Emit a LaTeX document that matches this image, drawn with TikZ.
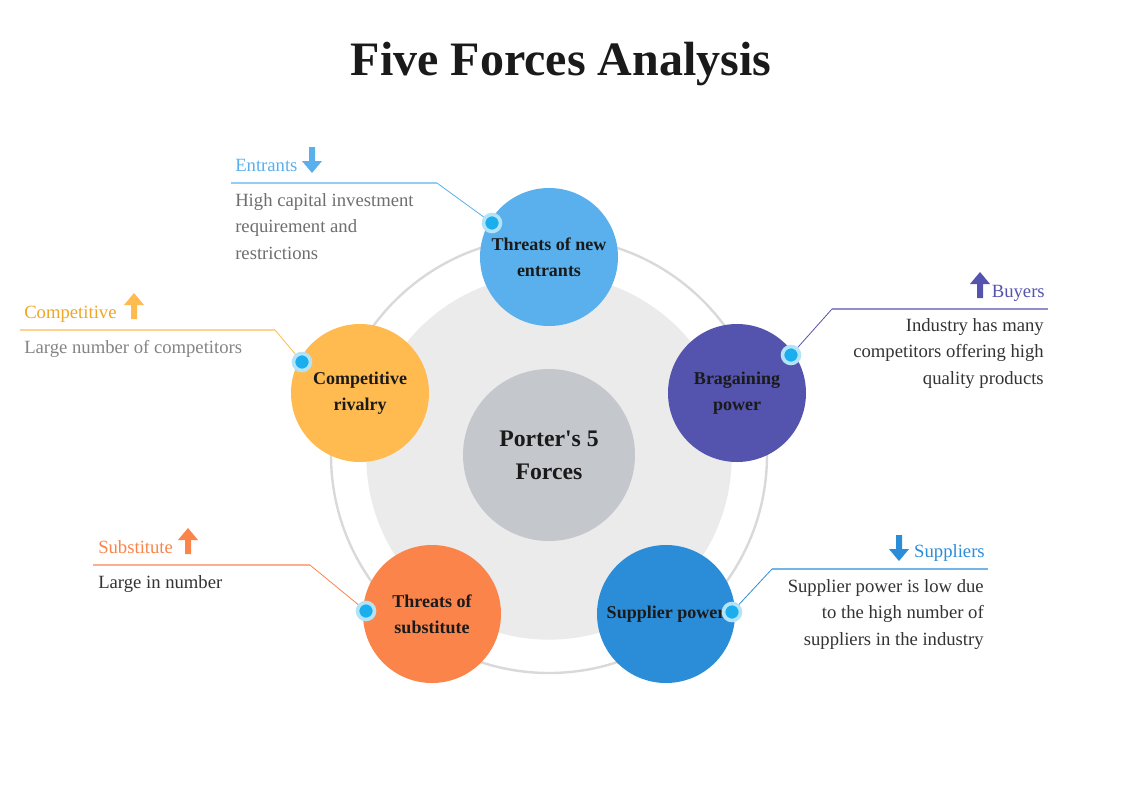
\documentclass[tikz,border=0pt]{standalone}
\usepackage{fontspec}
\setmainfont{Liberation Serif}
\usetikzlibrary{positioning}

\definecolor{entrantsC}{HTML}{5AB0EC}
\definecolor{rivalryC}{HTML}{FFBA50}
\definecolor{rivalryInk}{HTML}{EEA52A}
\definecolor{buyersC}{HTML}{5453AD}
\definecolor{substituteC}{HTML}{FA844A}
\definecolor{suppliersC}{HTML}{2B8CD8}
\definecolor{coreC}{HTML}{C4C8CC}
\definecolor{diskC}{HTML}{EBEBEB}
\definecolor{ringC}{HTML}{D9D9D9}
\definecolor{dotC}{HTML}{1AAEEE}
\definecolor{haloC}{HTML}{B2E3F7}
\definecolor{inkC}{HTML}{1A1A1A}
\definecolor{noteC}{HTML}{333333}
\definecolor{greyC}{HTML}{6E6E6E}

\tikzset{
    force/.style={circle, minimum size=103.5pt, inner sep=0pt, align=center,
        text=inkC, font=\fontsize{13.5}{19.5}\selectfont\bfseries},
    dot/.style={circle, fill=dotC, draw=haloC, line width=2.7pt,
        minimum size=12.75pt, inner sep=0pt},
    leader/.style={draw=#1, line width=0.6pt},
    shelf/.style={draw=#1!65, line width=1.1pt},
    tag/.style={inner sep=0pt, font=\fontsize{14}{16}\selectfont},
    note/.style={inner sep=0pt, font=\fontsize{14}{19.9}\selectfont},
    uparr/.pic={\fill[#1] (0,-13) -- (10,-1) -- (3,-1) -- (3,13)
        -- (-3,13) -- (-3,-1) -- (-10,-1) -- cycle;},
    downarr/.pic={\fill[#1] (0,13) -- (10,1) -- (3,1) -- (3,-13)
        -- (-3,-13) -- (-3,1) -- (-10,1) -- cycle;},
}

\begin{document}
\begin{tikzpicture}[x=0.75pt, y=-0.75pt]
    \useasboundingbox (0,0) rectangle (1122,794);

    % title
    \node[anchor=base, inner sep=0pt, text=inkC,
        font=\fontsize{36}{40}\selectfont\bfseries] (title) at (561,75) {Five Forces Analysis};

    % rings and core
    \node[circle, draw=ringC, line width=1.8pt, minimum size=327pt, inner sep=0pt] (ring) at (549,455) {};
    \node[circle, fill=diskC, minimum size=274pt, inner sep=0pt] (disk) at (549,457) {};
    \node[circle, fill=coreC, minimum size=129pt, inner sep=0pt, align=center, text=inkC,
        font=\fontsize{17.8}{24.75}\selectfont\bfseries] (core) at (549,455) {Porter\textquotesingle s 5\\Forces};

    % the five forces
    \node[force, fill=entrantsC]   (entrants)   at (549,257) {Threats of new\\entrants};
    \node[force, fill=rivalryC]    (rivalry)    at (360,393) {Competitive\\rivalry};
    \node[force, fill=buyersC]     (buyers)     at (737,393) {Bragaining\\power};
    \node[force, fill=substituteC] (substitute) at (432,614) {Threats of\\substitute};
    \node[force, fill=suppliersC]  (suppliers)  at (666,614) {Supplier power};

    % leader points
    \coordinate (entrantsBend)   at (437,183);
    \coordinate (entrantsEnd)    at (231,183);
    \coordinate (rivalryBend)    at (275,330);
    \coordinate (rivalryEnd)     at (20,330);
    \coordinate (buyersBend)     at (832,309);
    \coordinate (buyersEnd)      at (1048,309);
    \coordinate (substituteBend) at (310,565);
    \coordinate (substituteEnd)  at (93,565);
    \coordinate (suppliersBend)  at (772,569);
    \coordinate (suppliersEnd)   at (988,569);

    \node[dot] (entrantsDot)   at (492,223) {};
    \node[dot] (rivalryDot)    at (302,362) {};
    \node[dot] (buyersDot)     at (791,355) {};
    \node[dot] (substituteDot) at (366,611) {};
    \node[dot] (suppliersDot)  at (732,612) {};

    \draw[leader=entrantsC]   (entrantsDot)   -- (entrantsBend);
    \draw[leader=rivalryC]    (rivalryDot)    -- (rivalryBend);
    \draw[leader=buyersC]     (buyersDot)     -- (buyersBend);
    \draw[leader=substituteC] (substituteDot) -- (substituteBend);
    \draw[leader=suppliersC]  (suppliersDot)  -- (suppliersBend);

    \draw[shelf=entrantsC]   (entrantsBend)   -- (entrantsEnd);
    \draw[shelf=rivalryC]    (rivalryBend)    -- (rivalryEnd);
    \draw[shelf=buyersC]     (buyersBend)     -- (buyersEnd);
    \draw[shelf=substituteC] (substituteBend) -- (substituteEnd);
    \draw[shelf=suppliersC]  (suppliersBend)  -- (suppliersEnd);

    % tags with arrows
    \node[tag, anchor=base west, text=entrantsC] (entrantsTag) at (235,171) {Entrants};
    \pic at (312,160) {downarr=entrantsC};
    \node[tag, anchor=base west, text=rivalryInk] (rivalryTag) at (24,318) {Competitive};
    \pic at (134,306) {uparr=rivalryC};
    \node[tag, anchor=base east, text=buyersC] (buyersTag) at (1045,297) {Buyers};
    \pic at (980,285) {uparr=buyersC};
    \node[tag, anchor=base west, text=substituteC] (substituteTag) at (98,553) {Substitute};
    \pic at (188,541) {uparr=substituteC};
    \node[tag, anchor=base east, text=suppliersC] (suppliersTag) at (985,557) {Suppliers};
    \pic at (899,548) {downarr=suppliersC};

    % notes
    \node[note, anchor=north west, align=left, text=greyC] (entrantsNote) at (235,193)
        {High capital investment\\requirement and\\restrictions};
    \node[note, anchor=north west, align=left, text=greyC!85] (rivalryNote) at (24,340)
        {Large number of competitors};
    \node[note, anchor=north east, align=right, text=noteC] (buyersNote) at (1044,318)
        {Industry has many\\competitors offering high\\quality products};
    \node[note, anchor=north west, align=left, text=noteC] (substituteNote) at (98,575)
        {Large in number};
    \node[note, anchor=north east, align=right, text=noteC] (suppliersNote) at (984,579)
        {Supplier power is low due\\to the high number of\\suppliers in the industry};
\end{tikzpicture}
\end{document}
